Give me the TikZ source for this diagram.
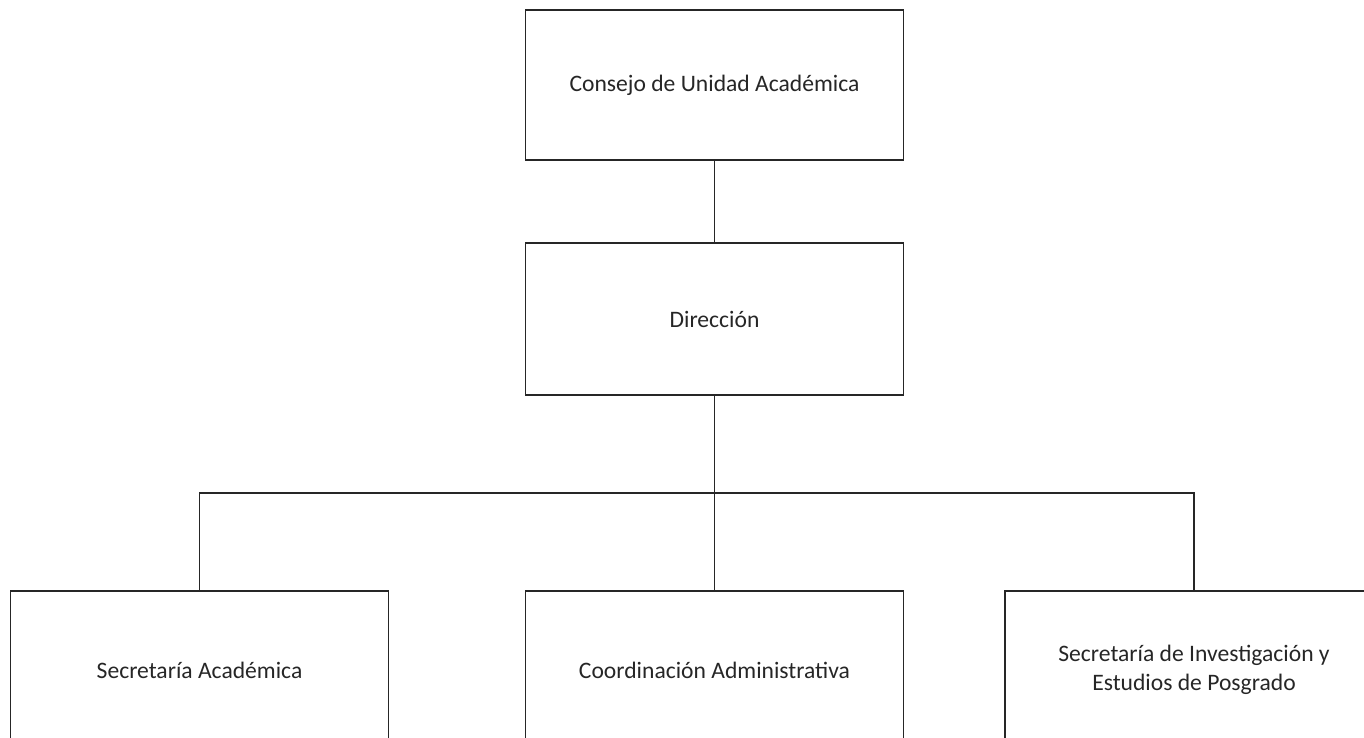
\documentclass[tikz,border=0pt]{standalone}
\usepackage{fontspec}
\setmainfont{Carlito}
\usepackage{tikz}
\usetikzlibrary{positioning}

\tikzset{
  orgbox/.style={draw=black!85, line width=0.7pt, minimum width=189pt,
    minimum height=75pt, align=center, inner sep=0pt, outer sep=0pt,
    font=\fontsize{11.8}{14.5}\selectfont, text=black!85},
  lowbox/.style={orgbox, minimum height=79pt},
  orgline/.style={draw=black!85, line width=0.7pt}
}

\begin{document}
\begin{tikzpicture}[x=0.5pt, y=-0.5pt]
      \useasboundingbox (0,0) rectangle (1364,738);
      \clip (0,0) rectangle (1364,738);
      \node[orgbox] (consejo) at (714.5,85) {Consejo de Unidad Académica};
      \node[orgbox, below=41.5pt of consejo, minimum height=76pt] (direccion) {Dirección};
      \node[lowbox, below=98pt of direccion] (coord) {Coordinación Administrativa};
      \node[lowbox] (secacad) at (199.5,670) {Secretaría Académica};
      \node[lowbox] (secinv) at (1194,670) {Secretaría de Investigación y\\ Estudios de Posgrado};
      \coordinate (bus) at (714.5,493);
      \draw[orgline] (consejo) -- (direccion);
      \draw[orgline] (direccion) -- (bus) -- (coord);
      \draw[orgline] (secacad.north) |- (bus) -| (secinv.north);
    \end{tikzpicture}
\end{document}
